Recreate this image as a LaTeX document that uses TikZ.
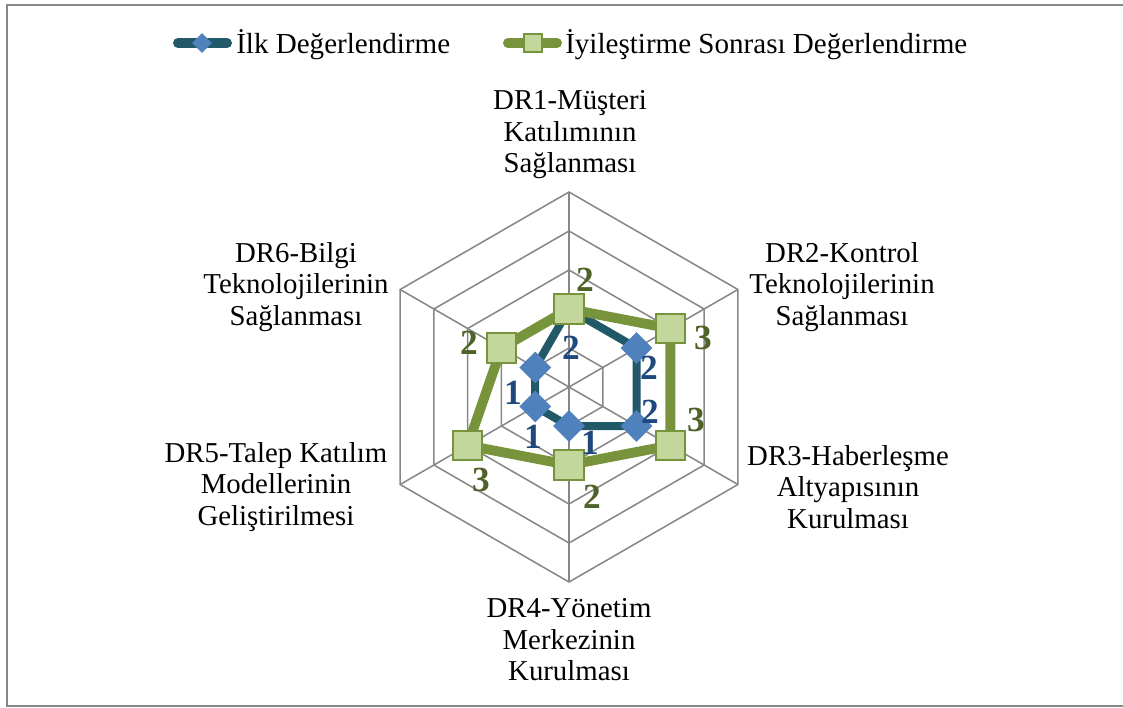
\documentclass[tikz,border=0pt]{standalone}
\usepackage{fontspec}
\setmainfont{Liberation Serif}
\usetikzlibrary{calc}
\definecolor{gridgray}{HTML}{878787}
\definecolor{lineA}{HTML}{215968}
\definecolor{markA}{HTML}{4F81BD}
\definecolor{textA}{HTML}{1F497D}
\definecolor{lineB}{HTML}{77933C}
\definecolor{markB}{HTML}{C3D69B}
\definecolor{textB}{HTML}{4F6228}
\tikzset{
  gridline/.style={draw=gridgray, line width=1.15pt},
  seriesA/.style={draw=lineA, line width=6pt, line join=round, line cap=round},
  seriesB/.style={draw=lineB, line width=7.4pt, line join=round, line cap=round},
  diamA/.style={fill=markA, rotate=45, minimum size=16.8pt, inner sep=0pt, outer sep=0pt},
  sqB/.style={fill=markB, draw=lineB, line width=1.5pt, minimum size=22pt, inner sep=0pt, outer sep=0pt},
  catlabel/.style={align=center, inner sep=0pt, font=\fontsize{21.6pt}{23.6pt}\selectfont},
  vallabA/.style={text=textA, inner sep=0pt, font=\fontsize{26.5pt}{28pt}\selectfont\bfseries},
  vallabB/.style={text=textB, inner sep=0pt, font=\fontsize{26.5pt}{28pt}\selectfont\bfseries},
  legtext/.style={anchor=base west, inner sep=0pt, font=\fontsize{21.8pt}{24pt}\selectfont},
}
\begin{document}
\begin{tikzpicture}[x=0.75pt, y=-0.75pt]
\useasboundingbox (0,0) rectangle (1123,707);
% outer frame
\draw[draw=gridgray, line width=1.5pt] (1123,5) -- (6.5,5) -- (6.5,706) -- (1123,706);

\coordinate (C) at (569,387);

% hexagonal grid, five rings of 39 px
\foreach \k in {1,...,5} {
  \draw[gridline] ($(C)+(-90:39*\k)$) -- ($(C)+(-30:39*\k)$) -- ($(C)+(30:39*\k)$)
    -- ($(C)+(90:39*\k)$) -- ($(C)+(150:39*\k)$) -- ($(C)+(210:39*\k)$) -- cycle;
}
% spokes
\foreach \a/\n in {-90/1,-30/2,30/3,90/4,150/5,210/6} {
  \coordinate (s\n) at ($(C)+(\a:195)$);
  \draw[gridline] (C) -- (s\n);
}

% data points: first assessment (a) and after improvement (b)
\coordinate (a1) at ($(C)+(-90:78)$);
\coordinate (a2) at ($(C)+(-30:78)$);
\coordinate (a3) at ($(C)+(30:78)$);
\coordinate (a4) at ($(C)+(90:39)$);
\coordinate (a5) at ($(C)+(150:39)$);
\coordinate (a6) at ($(C)+(210:39)$);
\coordinate (b1) at ($(C)+(-90:78)$);
\coordinate (b2) at ($(C)+(-30:117)$);
\coordinate (b3) at ($(C)+(30:117)$);
\coordinate (b4) at ($(C)+(90:78)$);
\coordinate (b5) at ($(C)+(150:117)$);
\coordinate (b6) at ($(C)+(210:78)$);

% series A
\draw[seriesA] (a1) -- (a2) -- (a3) -- (a4) -- (a5) -- (a6) -- cycle;
\foreach \i in {1,...,6} { \node[diamA] (ma\i) at (a\i) {}; }
% series B
\draw[seriesB] (b1) -- (b2) -- (b3) -- (b4) -- (b5) -- (b6) -- cycle;
\foreach \i in {1,...,6} { \node[sqB] (mb\i) at (b\i) {}; }

% value labels
\node[vallabA] (la1) at (571,348) {2};
\node[vallabA] (la2) at (649,368) {2};
\node[vallabA] (la3) at (650,412) {2};
\node[vallabA] (la4) at (590,443) {1};
\node[vallabA] (la5) at (533,437) {1};
\node[vallabA] (la6) at (513,393) {1};
\node[vallabB] (lb1) at (585,280) {2};
\node[vallabB] (lb2) at (703,338) {3};
\node[vallabB] (lb3) at (696,420) {3};
\node[vallabB] (lb4) at (592,497) {2};
\node[vallabB] (lb5) at (481,480) {3};
\node[vallabB] (lb6) at (469,343) {2};

% category labels
\node[catlabel] (c1) at (570,135) {DR1-Müşteri\\Katılımının\\Sağlanması};
\node[catlabel] (c2) at (842,287) {DR2-Kontrol\\Teknolojilerinin\\Sağlanması};
\node[catlabel] (c3) at (848,487) {DR3-Haberleşme\\Altyapısının\\Kurulması};
\node[catlabel] (c4) at (569,640) {DR4-Yönetim\\Merkezinin\\Kurulması};
\node[catlabel] (c5) at (276,487) {DR5-Talep Katılım\\Modellerinin\\Geliştirilmesi};
\node[catlabel] (c6) at (296,287) {DR6-Bilgi\\Teknolojilerinin\\Sağlanması};

% legend
\coordinate (lgA1) at (178,43);
\coordinate (lgA2) at (227,43);
\draw[draw=lineA, line width=7.5pt, line cap=round] (lgA1) -- (lgA2);
\node[fill=markA, rotate=45, minimum size=10.5pt, inner sep=0pt] (lgAm) at (202,43) {};
\node[legtext] (lgAt) at (236,53) {İlk Değerlendirme};
\coordinate (lgB1) at (508,43);
\coordinate (lgB2) at (557,43);
\draw[draw=lineB, line width=7.5pt, line cap=round] (lgB1) -- (lgB2);
\node[sqB, minimum size=13.5pt, line width=1.2pt] (lgBm) at (533,43) {};
\node[legtext] (lgBt) at (565,53) {İyileştirme Sonrası Değerlendirme};
\end{tikzpicture}
\end{document}
